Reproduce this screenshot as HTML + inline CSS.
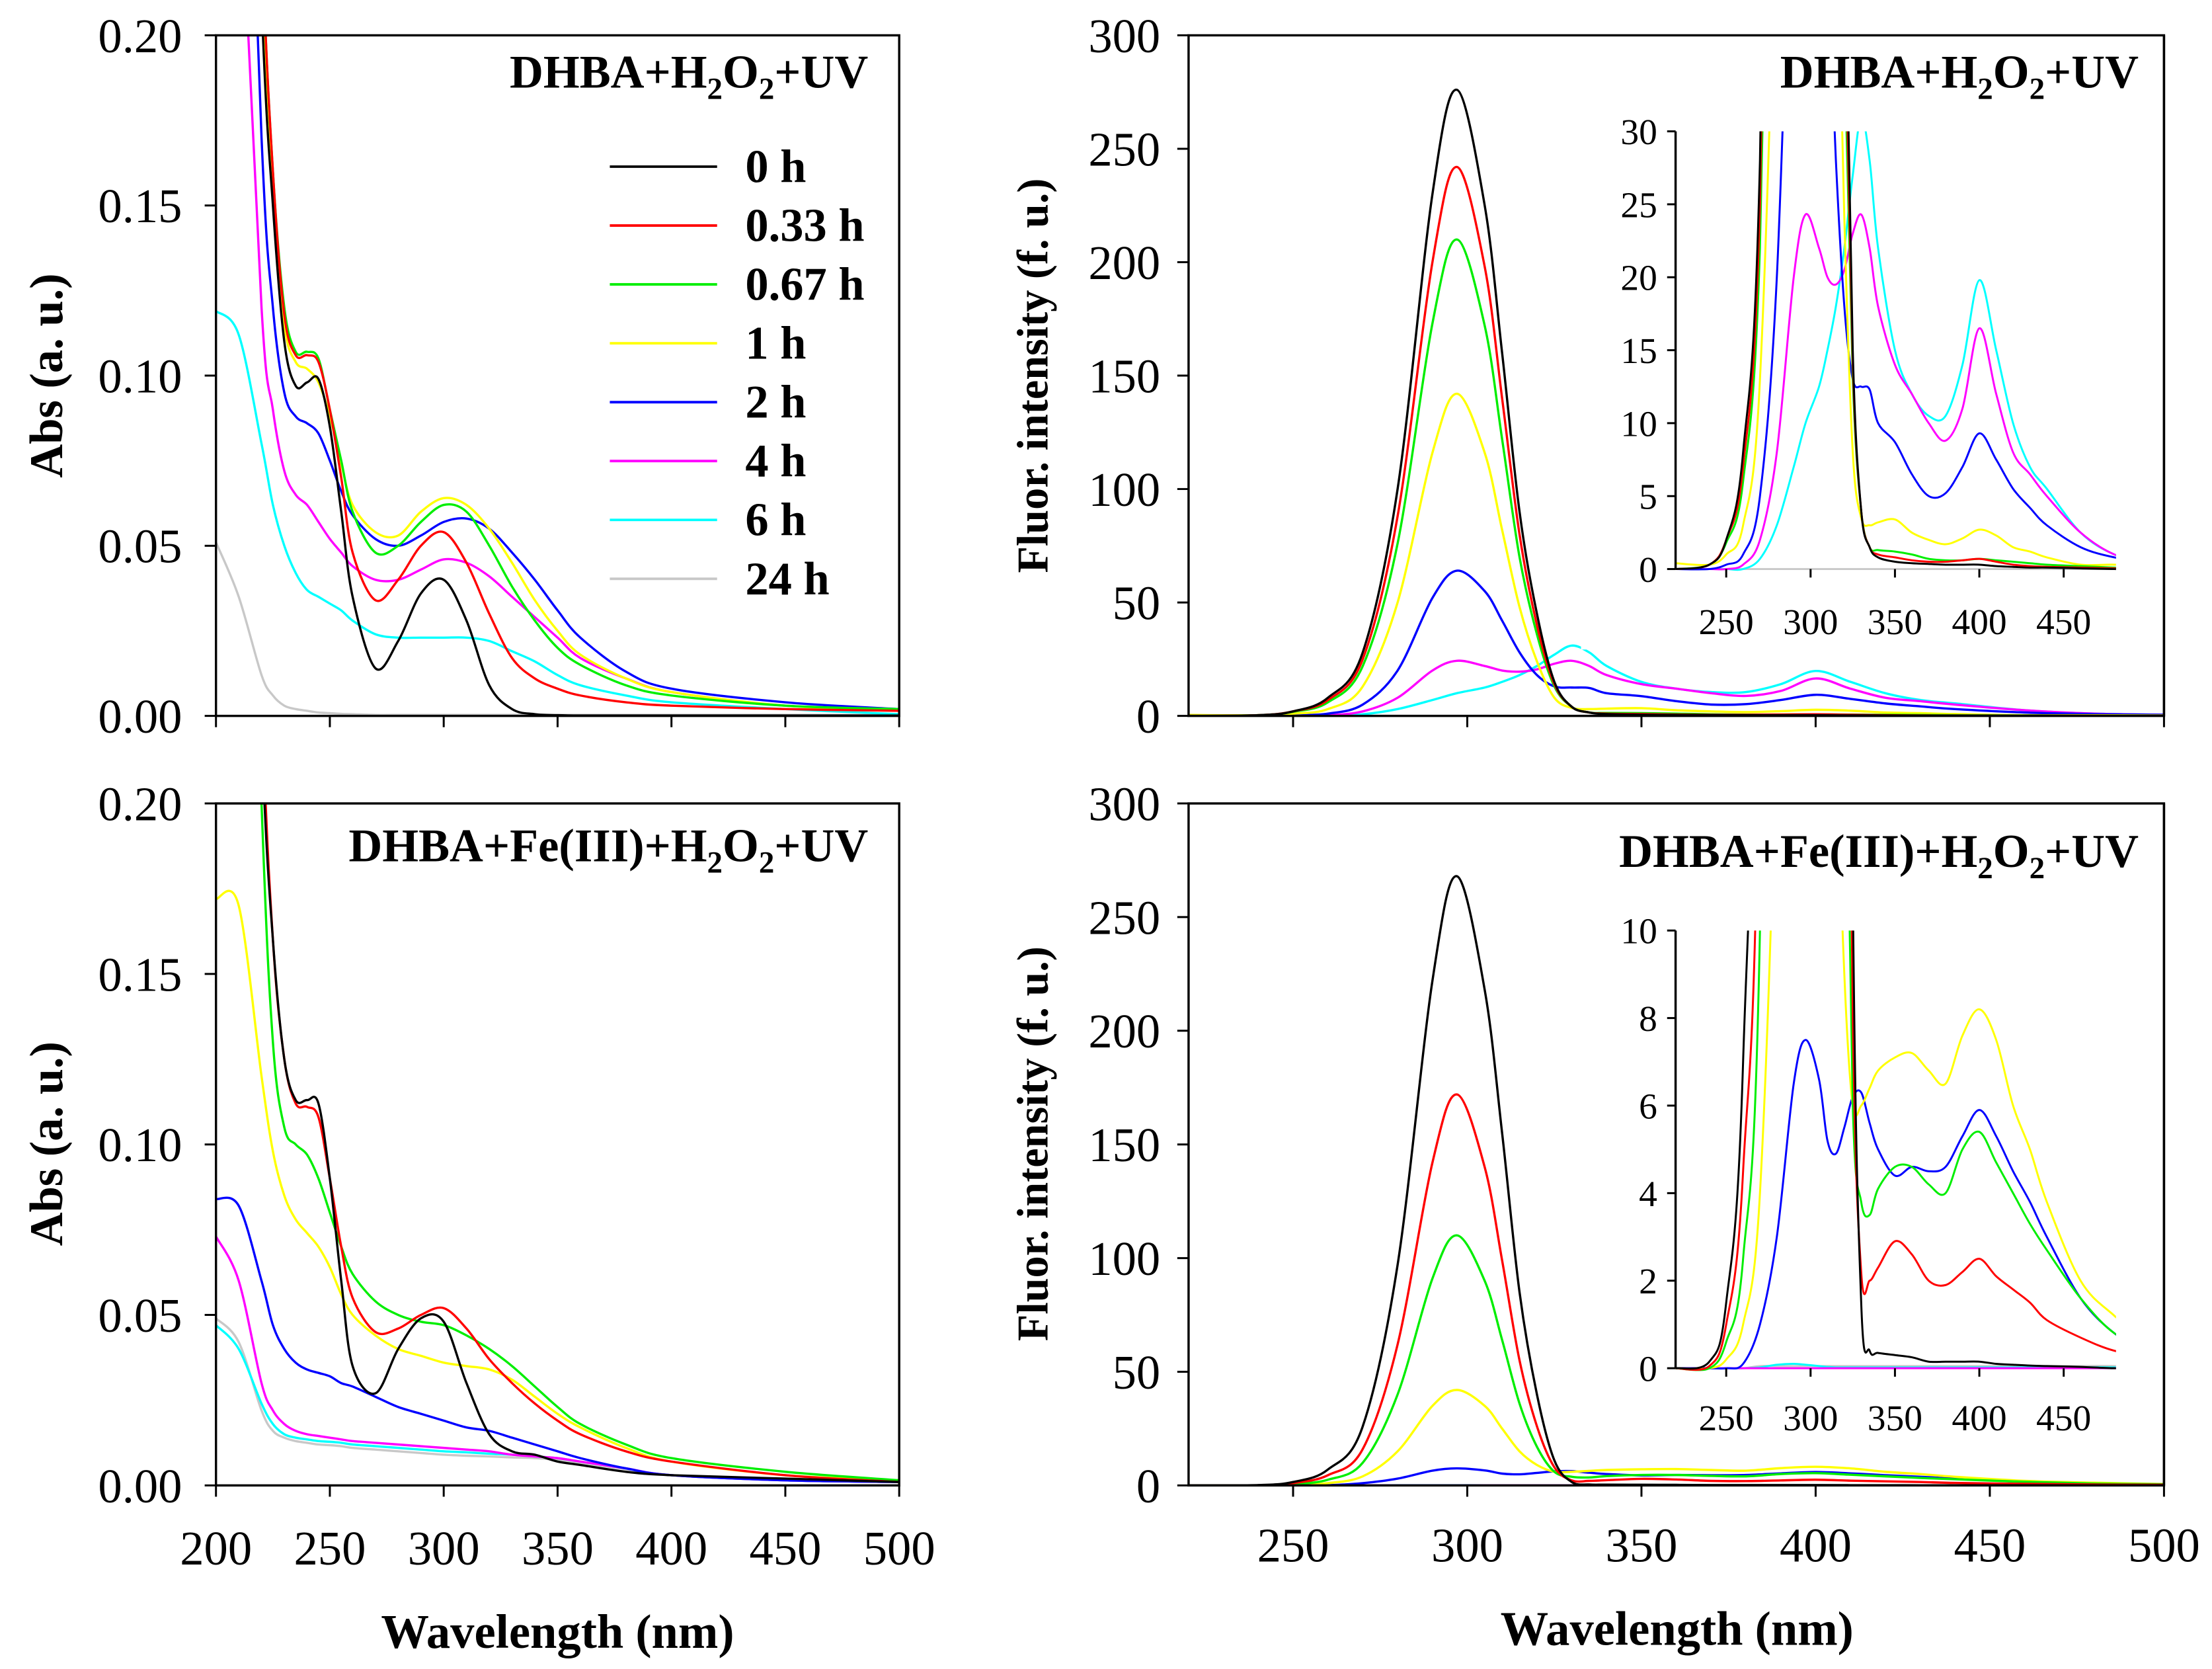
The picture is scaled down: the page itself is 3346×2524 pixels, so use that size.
<!DOCTYPE html>
<html><head><meta charset="utf-8"><style>
html,body{margin:0;padding:0;background:#fff;}
svg{display:block;}
text{font-family:"Liberation Serif",serif;fill:#000;}
.b{font-weight:bold;}
</style></head><body>
<svg id="fig" width="3346" height="2524" viewBox="0 0 1567 1182" xmlns="http://www.w3.org/2000/svg">
<defs>
<clipPath id="cA"><rect x="153" y="25" width="484" height="482"/></clipPath>
<clipPath id="cB"><rect x="153" y="569" width="484" height="483"/></clipPath>
<clipPath id="cC"><rect x="842" y="25" width="691" height="482"/></clipPath>
<clipPath id="cD"><rect x="842" y="569" width="691" height="483"/></clipPath>
<clipPath id="cE"><rect x="1187" y="93" width="312" height="312"/></clipPath>
<clipPath id="cF"><rect x="1187" y="659" width="312" height="312"/></clipPath>
</defs>
<g id="root"></g>
</svg>
<script>
const colors=['#000000','#ff0000','#00ee00','#ffff00','#0000ff','#ff00ff','#00ffff','#c8c8c8'];
const seriesNames=['0 h','0.33 h','0.67 h','1 h','2 h','4 h','6 h','24 h'];
const absWl=[200,210,220,225,230,235,240,245,250,255,260,270,280,290,300,310,320,330,340,350,360,380,400,450,500];
const absTop_0=[.6,.4,.21,.15,.11,.097,.098,.099,.085,.06,.035,.014,.022,.036,.040,.028,.009,.002,.0005,.0002,.0001,.0001,.0001,.0001,.0001];
const absTop_1=[.6,.42,.23,.16,.118,.106,.106,.104,.09,.07,.048,.034,.04,.05,.054,.045,.03,.017,.011,.008,.006,.004,.003,.002,.0015];
const absTop_2=[.6,.42,.23,.16,.12,.107,.107,.105,.09,.075,.06,.048,.05,.057,.062,.06,.05,.038,.028,.02,.015,.009,.006,.003,.002];
const absTop_3=[.6,.42,.22,.155,.115,.104,.102,.098,.088,.074,.062,.054,.053,.06,.064,.062,.055,.045,.034,.025,.018,.011,.007,.003,.0015];
const absTop_4=[.6,.35,.17,.12,.095,.088,.086,.083,.075,.066,.059,.052,.05,.053,.057,.058,.055,.048,.04,.031,.023,.013,.008,.004,.002];
const absTop_5=[.4,.26,.12,.09,.072,.065,.062,.057,.052,.048,.044,.04,.04,.043,.046,.045,.041,.035,.029,.023,.017,.011,.007,.003,.002];
const absTop_6=[.119,.112,.08,.062,.05,.042,.037,.035,.033,.031,.028,.024,.023,.023,.023,.023,.022,.019,.016,.012,.009,.006,.004,.002,.0005];
const absTop_7=[.051,.035,.012,.006,.003,.002,.0015,.001,.0008,.0006,.0005,.0003,.0003,.0003,.0003,.0003,.0003,.0003,.0003,.0003,.0003,.0003,.0003,.0003,.0003];
const absBot_0=[.6,.4,.22,.16,.125,.113,.113,.112,.09,.06,.035,.027,.04,.049,.048,.03,.015,.01,.009,.007,.006,.004,.003,.002,.001];
const absBot_1=[.6,.42,.23,.16,.125,.112,.111,.108,.09,.07,.055,.045,.046,.05,.052,.046,.037,.03,.024,.019,.015,.01,.007,.003,.001];
const absBot_2=[.6,.4,.2,.13,.105,.1,.097,.09,.08,.07,.062,.054,.05,.048,.047,.044,.04,.035,.029,.023,.018,.012,.008,.004,.0015];
const absBot_3=[.172,.17,.12,.098,.085,.078,.074,.07,.064,.056,.05,.044,.04,.038,.036,.035,.034,.031,.026,.021,.017,.011,.007,.003,.0015];
const absBot_4=[.084,.082,.06,.047,.04,.036,.034,.033,.032,.03,.029,.026,.023,.021,.019,.017,.016,.014,.012,.01,.008,.005,.003,.0015,.001];
const absBot_5=[.073,.06,.03,.022,.018,.016,.015,.0145,.014,.0135,.013,.0125,.012,.0115,.011,.0105,.01,.009,.0085,.008,.007,.005,.003,.0015,.001];
const absBot_6=[.047,.04,.024,.018,.015,.014,.0135,.013,.0128,.0125,.012,.0115,.011,.0105,.01,.0097,.0093,.009,.0085,.008,.007,.005,.003,.0015,.001];
const absBot_7=[.049,.042,.022,.016,.014,.013,.0125,.012,.0118,.0115,.011,.0105,.01,.0095,.009,.0087,.0085,.0082,.008,.0075,.0065,.0048,.003,.0015,.001];
const flWl=[220,240,250,260,270,280,290,297,305,310,315,320,325,330,335,340,350,360,370,380,390,400,410,420,430,440,460,480,500];
const flTop_0=[0,0.3,2,8,28,100,230,276,225,160,90,45,15,4,1.5,0.8,0.5,0.4,0.35,0.3,0.3,0.3,0.2,0.15,0.1,0.1,0.05,0,0];
const flTop_1=[0,0.3,2,7,25,88,200,242,198,140,80,40,14,4,1.5,1,0.8,0.6,0.5,0.5,0.6,0.7,0.5,0.3,0.2,0.15,0.1,0.05,0];
const flTop_2=[0,0.3,1.8,6,22,76,173,210,172,122,70,36,13,4,1.5,1.3,1.2,1,0.7,0.6,0.6,0.7,0.6,0.5,0.4,0.3,0.2,0.1,0];
const flTop_3=[0.4,0.3,1,3,13,50,116,142,116,82,48,24,8,3.5,3,3.2,3.4,2.5,2,1.7,2.1,2.7,2.3,1.5,1.2,0.8,0.3,0.3,0.2];
const flTop_4=[0,0,0.3,1,5,20,52,64,55,42,28,18,13,12.5,12.3,10,8.7,6.5,5,5.2,7,9.3,7.5,5.5,4.2,3,1.5,0.8,0.5];
const flTop_5=[0,0,0,0.3,2,8,20,24.3,22,20,19.5,20.5,23,24.3,22,18,14,12,10,8.8,11,16.5,12,8,6.5,5,2.5,1,0.5];
const flTop_6=[0,0,0,0,0.7,3,7,10,12.5,15,18,22,27,31,28,22,15,12,10.5,10.5,14,19.8,15,10,7,5.5,2.5,1,0.5];
const flTop_7=[0,0,0,0,0,0,0,0,0,0,0,0,0,0,0,0,0,0,0,0,0,0,0,0,0,0,0,0,0];
const flBot_0=[0,0.15,1.5,7,26,97,222,268,218,155,85,40,11,1.5,0.4,0.35,0.3,0.25,0.15,0.15,0.15,0.15,0.1,0.08,0.06,0.05,0.03,0,0];
const flBot_1=[0,0.05,1,4.5,16,62,142,172,140,99,55,26,8,2.2,2,2.3,2.9,2.6,2,1.9,2.2,2.5,2.1,1.8,1.5,1.1,0.7,0.4,0.3];
const flBot_2=[0,0,0.6,2.5,10,40,91,110,90,64,36,17,6,3.8,3.5,4.1,4.6,4.6,4.2,4,5,5.4,4.7,4,3.3,2.7,1.6,0.8,0.5];
const flBot_3=[0,0,0.2,1,4,15,35,42,35,25,15,9,6,6,6.4,6.8,7.1,7.2,6.8,6.5,7.6,8.2,7.5,6,5,3.8,2,1.2,0.6];
const flBot_4=[0,0,0,0.1,1,3,6.5,7.5,6.6,5.2,4.9,5.5,6.2,6.3,5.6,5,4.4,4.6,4.5,4.6,5.3,5.9,5.3,4.5,3.8,3,1.6,0.8,0.4];
const flBot_5=[0,0,0,0,0,0,0,0,0,0,0,0,0,0,0,0,0,0,0,0,0,0,0,0,0,0,0,0,0];
const flBot_6=[0,0,0,0,0.02,0.08,0.1,0.08,0.05,0.03,0.02,0.02,0.02,0.02,0.02,0.02,0.02,0.02,0.02,0.02,0.02,0.02,0.02,0.02,0.02,0.02,0.02,0.02,0];
const flBot_7=[0,0,0,0,0.05,0.05,0.05,0.05,0.05,0.05,0.05,0.05,0.05,0.05,0.05,0.05,0.05,0.05,0.05,0.05,0.05,0.05,0.05,0.05,0.05,0.05,0.05,0.05,0];
const absTicks=['0.00','0.05','0.10','0.15','0.20'];
const absTickVals=[0,0.05,0.1,0.15,0.2];
const absXTicks=[200,250,300,350,400,450,500];
const flTicks=[0,50,100,150,200,250,300];
const flXTicks=[250,300,350,400,450,500];
const inTopTicks=[0,5,10,15,20,25,30];
const inBotTicks=[0,2,4,6,8,10];
const inXTicks=[250,300,350,400,450];

const NS='http://www.w3.org/2000/svg';
const root=document.getElementById('root');
function mk(tag,attrs,parent){const e=document.createElementNS(NS,tag);for(const k in attrs)e.setAttribute(k,attrs[k]);(parent||root).appendChild(e);return e;}
function scale(d0,d1,r0,r1){return v=>r0+(v-d0)/(d1-d0)*(r1-r0);}
function pathFor(xs,ys,sx,sy){
  const p=xs.map((x,i)=>[sx(x),sy(ys[i])]);
  let d='M'+p[0][0].toFixed(2)+','+p[0][1].toFixed(2);
  for(let i=0;i<p.length-1;i++){
    const p0=p[Math.max(0,i-1)],p1=p[i],p2=p[i+1],p3=p[Math.min(p.length-1,i+2)];
    const c1=[p1[0]+(p2[0]-p0[0])/6,p1[1]+(p2[1]-p0[1])/6];
    const c2=[p2[0]-(p3[0]-p1[0])/6,p2[1]-(p3[1]-p1[1])/6];
    d+='C'+c1[0].toFixed(2)+','+c1[1].toFixed(2)+' '+c2[0].toFixed(2)+','+c2[1].toFixed(2)+' '+p2[0].toFixed(2)+','+p2[1].toFixed(2);
  }
  return d;
}
function drawSeries(g,xs,list,sx,sy,clip,w){
  const cg=mk('g',{'clip-path':'url(#'+clip+')'},g);
  for(let i=list.length-1;i>=0;i--){
    const p=mk('path',{d:pathFor(xs,list[i],sx,sy),fill:'none',stroke:colors[i],'stroke-width':w,'stroke-linejoin':'round'},cg);
    
    
  }
}
function panel(o){
  const g=mk('g',{});
  
  
  const sx=scale(o.xd[0],o.xd[1],o.x0,o.x1), sy=scale(o.yd[0],o.yd[1],o.y1,o.y0);
  drawSeries(g,o.xs,o.list,sx,sy,o.clip,o.lw);
  if(o.frame){
    const f=mk('rect',{x:o.x0,y:o.y0,width:o.x1-o.x0,height:o.y1-o.y0,fill:'none',stroke:'#000','stroke-width':1.6},g);
    
    
  } else {
    const a=mk('line',{x1:o.x0,y1:o.y0,x2:o.x0,y2:o.y1,stroke:'#000','stroke-width':1.6},g);
    
    
  }
  const tl=o.tl;
  o.yticks.forEach((v,i)=>{
    mk('line',{x1:o.x0-tl,y1:sy(v),x2:o.x0,y2:sy(v),stroke:'#000','stroke-width':1.4},g);
    const t=mk('text',{x:o.x0-o.lgap,y:sy(v)+o.fs*0.35,'text-anchor':'end','font-size':o.fs},g);
    t.textContent=o.ylabels?o.ylabels[i]:v;
    
    
  });
  o.xticks.forEach(v=>{
    mk('line',{x1:sx(v),y1:o.y1,x2:sx(v),y2:o.y1+tl,stroke:'#000','stroke-width':1.4},g);
    if(o.xlab){
      const t=mk('text',{x:sx(v),y:o.y1+o.xlabDy,'text-anchor':'middle','font-size':o.fs},g);
      t.textContent=v;
      
      
    }
  });
  return g;
}
function title(x,y,parts,name){
  const t=mk('text',{x:x,y:y,'text-anchor':'end','font-size':33,class:'b'});
  
  
  parts.forEach(p=>{const s=mk('tspan',{},t);if(p[1]){s.setAttribute('font-size','22');s.setAttribute('dy','8');}else if(p[2]){s.setAttribute('dy','-8');}s.textContent=p[0];});
}
function label(x,y,txt,rot,name,fs){
  const t=mk('text',{x:x,y:y,'text-anchor':'middle','font-size':fs,class:'b',transform:rot?'rotate(-90 '+x+' '+y+')':''});
  t.textContent=txt;
  
  
}
const absTopList=[absTop_0,absTop_1,absTop_2,absTop_3,absTop_4,absTop_5,absTop_6,absTop_7];
const absBotList=[absBot_0,absBot_1,absBot_2,absBot_3,absBot_4,absBot_5,absBot_6,absBot_7];
const flTopList=[flTop_0,flTop_1,flTop_2,flTop_3,flTop_4,flTop_5,flTop_6,flTop_7];
const flBotList=[flBot_0,flBot_1,flBot_2,flBot_3,flBot_4,flBot_5,flBot_6,flBot_7];

panel({name:'abs-top-panel',xs:absWl,list:absTopList,xd:[200,500],yd:[0,0.2],x0:153,x1:637,y0:25,y1:507,clip:'cA',lw:1.6,frame:true,tl:8,lgap:24,fs:34,yticks:absTickVals,ylabels:absTicks,xticks:absXTicks,xlab:false});
panel({name:'abs-bottom-panel',xs:absWl,list:absBotList,xd:[200,500],yd:[0,0.2],x0:153,x1:637,y0:569,y1:1052,clip:'cB',lw:1.6,frame:true,tl:8,lgap:24,fs:34,yticks:absTickVals,ylabels:absTicks,xticks:absXTicks,xlab:true,xlabDy:56});
panel({name:'fluor-top-panel',xs:flWl,list:flTopList,xd:[220,500],yd:[0,300],x0:842,x1:1533,y0:25,y1:507,clip:'cC',lw:1.6,frame:true,tl:8,lgap:20,fs:34,yticks:flTicks,xticks:flXTicks,xlab:false});
panel({name:'fluor-bottom-panel',xs:flWl,list:flBotList,xd:[220,500],yd:[0,300],x0:842,x1:1533,y0:569,y1:1052,clip:'cD',lw:1.6,frame:true,tl:8,lgap:20,fs:34,yticks:flTicks,xticks:flXTicks,xlab:true,xlabDy:54});
mk('rect',{x:1120,y:85,width:405,height:375,fill:'#fff'});
mk('rect',{x:1120,y:650,width:405,height:385,fill:'#fff'});
panel({name:'fluor-top-inset',xs:flWl,list:flTopList,xd:[220,481],yd:[0,30],x0:1187,x1:1499,y0:93,y1:403,clip:'cE',lw:1.4,frame:false,tl:6,lgap:13,fs:26,yticks:inTopTicks,xticks:inXTicks,xlab:true,xlabDy:46});
panel({name:'fluor-bottom-inset',xs:flWl,list:flBotList,xd:[220,481],yd:[0,10],x0:1187,x1:1499,y0:659,y1:969,clip:'cF',lw:1.4,frame:false,tl:6,lgap:13,fs:26,yticks:inBotTicks,xticks:inXTicks,xlab:true,xlabDy:44});
mk('line',{x1:1533,y1:25,x2:1533,y2:507,stroke:'#000','stroke-width':1.6});
mk('line',{x1:1533,y1:569,x2:1533,y2:1052,stroke:'#000','stroke-width':1.6});

title(615,62,[['DHBA+H'],['2',1],['O',0,1],['2',1],['+UV',0,1]],'abs-top-title');
title(615,610,[['DHBA+Fe(III)+H'],['2',1],['O',0,1],['2',1],['+UV',0,1]],'abs-bottom-title');
title(1515,62,[['DHBA+H'],['2',1],['O',0,1],['2',1],['+UV',0,1]],'fluor-top-title');
title(1515,614,[['DHBA+Fe(III)+H'],['2',1],['O',0,1],['2',1],['+UV',0,1]],'fluor-bottom-title');

seriesNames.forEach((n,i)=>{
  const y=118+i*41.7;
  const l=mk('line',{x1:432,y1:y,x2:508,y2:y,stroke:colors[i],'stroke-width':1.8});
  
  
  const t=mk('text',{x:528,y:y+11,'font-size':33,class:'b'});
  t.textContent=n;
  
  
});
label(44,266,'Abs (a. u.)',true,'y-axis-title-abs-top',33);
label(44,810,'Abs (a. u.)',true,'y-axis-title-abs-bottom',33);
label(742,266,'Fluor. intensity (f. u.)',true,'y-axis-title-fluor-top',31);
label(742,810,'Fluor. intensity (f. u.)',true,'y-axis-title-fluor-bottom',31);
label(395,1167,'Wavelength (nm)',false,'x-axis-title-abs',34);
label(1188,1165,'Wavelength (nm)',false,'x-axis-title-fluor',34);
</script>
</body></html>
